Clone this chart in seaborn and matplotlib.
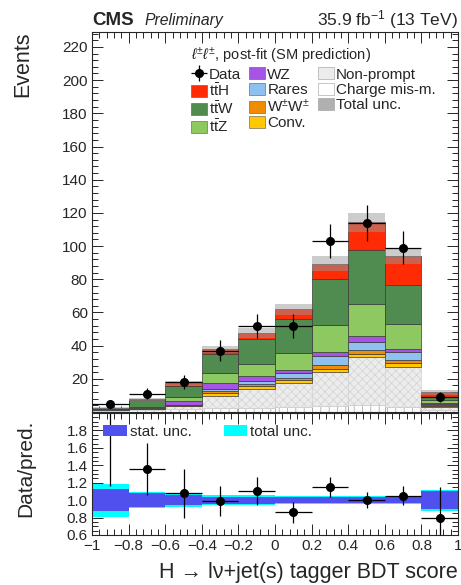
import numpy as np
import pandas as pd
import matplotlib
matplotlib.use("Agg")
import matplotlib.pyplot as plt
import seaborn as sns
from matplotlib.patches import Patch
from matplotlib.ticker import MultipleLocator
from matplotlib.colors import to_rgba

# ---------------------------------------------------------------------------
# Data
# ---------------------------------------------------------------------------
bin_edges = [-1.0, -0.8, -0.6, -0.4, -0.2, 0.0, 0.2, 0.4, 0.6, 0.8, 1.0]
bin_centers = [-0.9, -0.7, -0.5, -0.3, -0.1, 0.1, 0.3, 0.5, 0.7, 0.9]

# post-fit yields per process (events per bin)
tth = [0.1, 0.3, 1.6, 2.8, 4.0, 5.5, 9.4, 17.1, 17.0, 3.0]
ttw = [0.4, 4.5, 6.4, 11.2, 14.8, 21.0, 27.7, 32.4, 23.9, 1.6]
ttz = [0.2, 0.4, 2.4, 6.5, 7.2, 10.0, 16.4, 19.3, 15.2, 2.0]
wz = [0.1, 0.1, 2.3, 3.4, 3.2, 2.0, 2.2, 3.4, 1.4, 0.4]
rares = [0.1, 0.1, 0.3, 1.0, 1.7, 2.8, 5.4, 5.0, 5.0, 0.8]
wpwp = [0.1, 0.2, 0.3, 1.3, 1.3, 1.5, 2.5, 2.3, 2.0, 0.5]
conv = [0.1, 0.2, 0.3, 1.9, 1.9, 1.6, 1.5, 1.7, 2.0, 0.5]
fakes = [0.8, 0.8, 1.6, 7.1, 11.1, 14.4, 20.8, 29.3, 24.3, 1.5]
chflip = [0.5, 1.0, 2.0, 2.5, 2.5, 3.0, 3.5, 4.0, 3.0, 1.5]

data_obs = [5, 11, 18, 37, 52, 52, 103, 114, 99, 9]
data_err = [2.3, 3.4, 4.3, 6.1, 7.2, 7.2, 10.2, 10.7, 10.0, 3.0]

# relative uncertainties of the prediction
tot_unc_rel = [0.19, 0.09, 0.08, 0.06, 0.06, 0.05, 0.05, 0.05, 0.05, 0.12]
stat_unc_rel = [0.13, 0.08, 0.06, 0.04, 0.04, 0.035, 0.035, 0.035, 0.035, 0.10]

# data / prediction
ratio_vals = [2.2, 1.36, 1.08, 0.99, 1.10, 0.86, 1.15, 1.00, 1.05, 0.80]
ratio_err = [1.04, 0.30, 0.28, 0.17, 0.16, 0.12, 0.11, 0.09, 0.11, 0.35]

# ---------------------------------------------------------------------------
# Style
# ---------------------------------------------------------------------------
sns.set_theme(style="ticks")
plt.rcParams["font.family"] = ["Liberation Sans", "DejaVu Sans"]
plt.rcParams["mathtext.fontset"] = "custom"
plt.rcParams["mathtext.rm"] = "Liberation Sans"
plt.rcParams["mathtext.it"] = "Liberation Sans:italic"
plt.rcParams["hatch.linewidth"] = 0.5

processes = {
    "ttH": (tth, "#fe2b05", r"t$\bar{\rm t}$H"),
    "ttW": (ttw, "#508c50", r"t$\bar{\rm t}$W"),
    "ttZ": (ttz, "#8ec860", r"t$\bar{\rm t}$Z"),
    "WZ": (wz, "#a654e6", "WZ"),
    "Rares": (rares, "#8ec0f0", "Rares"),
    "WW": (wpwp, "#f08c00", r"W$^{\pm}$W$^{\pm}$"),
    "Conv": (conv, "#ffc800", "Conv."),
    "Fakes": (fakes, "#ececec", "Non-prompt"),
    "ChFlip": (chflip, "#fdfdfd", "Charge mis-m."),
}
hue_order = list(processes.keys())  # seaborn stacks last level at the bottom
palette = {k: v[1] for k, v in processes.items()}

rows = []
for name, (vals, _, _) in processes.items():
    for xc, v in zip(bin_centers, vals):
        rows.append({"x": xc, "yield": v, "process": name})
df = pd.DataFrame(rows)

total = df.groupby("x")["yield"].sum().reindex(bin_centers).to_numpy()
tot_unc = total * np.array(tot_unc_rel)

# ---------------------------------------------------------------------------
# Figure
# ---------------------------------------------------------------------------
fig = plt.figure(figsize=(4.61, 5.85), dpi=100)
ax = fig.add_axes([0.1996, 0.2957, 0.794, 0.6496])
ax_r = fig.add_axes([0.1996, 0.0855, 0.794, 0.2085], sharex=ax)

sns.histplot(
    data=df, x="x", weights="yield", hue="process", hue_order=hue_order,
    multiple="stack", bins=bin_edges, palette=palette, element="bars",
    alpha=1.0, edgecolor="#3a3a3a", linewidth=0.5, legend=False, ax=ax,
)

# hatch the data-driven backgrounds
fake_rgba = to_rgba(palette["Fakes"])
flip_rgba = to_rgba(palette["ChFlip"])
for p in ax.patches:
    fc = p.get_facecolor()
    if np.allclose(fc, fake_rgba, atol=0.01):
        p.set_hatch("xxxx")
        p.set_edgecolor("#d2d2d2")
    elif np.allclose(fc, flip_rgba, atol=0.01):
        p.set_hatch("||")
        p.set_edgecolor("#a0a0a0")

ax.bar(bin_centers, 2 * tot_unc, bottom=total - tot_unc, width=0.2,
       color="#9a9a9a", alpha=0.5, linewidth=0)

data_h = ax.errorbar(bin_centers, data_obs, xerr=0.1, yerr=data_err, fmt="o",
                     color="black", ms=5.5, elinewidth=0.9, capsize=0)

ax.set_xlim(-1, 1)
ax.set_ylim(0, 229)
ax.set_yticks(range(0, 221, 20))
ax.set_yticklabels([""] + [str(v) for v in range(20, 221, 20)])
ax.yaxis.set_minor_locator(MultipleLocator(4))
ax.xaxis.set_major_locator(MultipleLocator(0.2))
ax.xaxis.set_minor_locator(MultipleLocator(0.04))
ax.tick_params(axis="x", labelbottom=False)
ax.set_xlabel("")
ax.set_ylabel("Events", fontsize=15.5, loc="top")
ax.yaxis.set_label_coords(-0.16, 1.0)

legend_handles = [
    data_h,
    Patch(facecolor=palette["ttH"], edgecolor="#555555", linewidth=0.4),
    Patch(facecolor=palette["ttW"], edgecolor="#555555", linewidth=0.4),
    Patch(facecolor=palette["ttZ"], edgecolor="#555555", linewidth=0.4),
    Patch(facecolor=palette["WZ"], edgecolor="#555555", linewidth=0.4),
    Patch(facecolor=palette["Rares"], edgecolor="#555555", linewidth=0.4),
    Patch(facecolor=palette["WW"], edgecolor="#555555", linewidth=0.4),
    Patch(facecolor=palette["Conv"], edgecolor="#555555", linewidth=0.4),
    Patch(facecolor=palette["Fakes"], edgecolor="#999999", linewidth=0.4),
    Patch(facecolor="white", edgecolor="#999999", linewidth=0.4),
    Patch(facecolor="#b0b0b0", edgecolor="#999999", linewidth=0.4),
]
legend_labels = [
    "Data", processes["ttH"][2], processes["ttW"][2], processes["ttZ"][2],
    "WZ", "Rares", processes["WW"][2], "Conv.",
    "Non-prompt", "Charge mis-m.", "Total unc.",
]
leg = ax.legend(
    legend_handles, legend_labels, ncol=3, loc="upper left",
    bbox_to_anchor=(0.27, 0.963), frameon=False, fontsize=11,
    title=r"$\ell^{\pm}\ell^{\pm}$, post-fit (SM prediction)", title_fontsize=10.5,
    alignment="left", handlelength=1.05, handleheight=0.85, handletextpad=0.15,
    columnspacing=0.5, labelspacing=0.06, borderpad=0, borderaxespad=0,
)

# ---------------------------------------------------------------------------
# Ratio panel
# ---------------------------------------------------------------------------
tot_r = np.array(tot_unc_rel)
stat_r = np.array(stat_unc_rel)
ax_r.bar(bin_centers, 2 * tot_r, bottom=1 - tot_r, width=0.2, color="#00ffff",
         linewidth=0, label="total unc.")
ax_r.bar(bin_centers, 2 * stat_r, bottom=1 - stat_r, width=0.2, color="#5050ee",
         linewidth=0, label="stat. unc.")
ax_r.errorbar(bin_centers, ratio_vals, xerr=0.1, yerr=ratio_err, fmt="o",
              color="black", ms=5.5, elinewidth=0.9, capsize=0)
h, l = ax_r.get_legend_handles_labels()
ax_r.legend(h[::-1], l[::-1], ncol=2, loc="center left", bbox_to_anchor=(0.03, 0.844),
            frameon=False, fontsize=11, handlelength=1.55, handleheight=0.72,
            handletextpad=0.2, columnspacing=2.1, borderpad=0, borderaxespad=0)

ax_r.set_ylim(0.6, 2.0)
ax_r.set_yticks([0.6, 0.8, 1.0, 1.2, 1.4, 1.6, 1.8])
ax_r.set_yticklabels(["0.6", "0.8", "1.0", "1.2", "1.4", "1.6", "1.8"])
ax_r.yaxis.set_minor_locator(MultipleLocator(0.05))
ax_r.set_xticks([-1, -0.8, -0.6, -0.4, -0.2, 0, 0.2, 0.4, 0.6, 0.8, 1])
ax_r.set_xticklabels(["\u22121", "\u22120.8", "\u22120.6", "\u22120.4", "\u22120.2",
                      "0", "0.2", "0.4", "0.6", "0.8", "1"])
ax_r.set_xlim(-1, 1)
ax_r.set_ylabel("Data/pred.", fontsize=15, loc="center")
ax_r.yaxis.set_label_coords(-0.156, 0.55)
ax_r.set_xlabel("H \u2192 l\u03bd+jet(s) tagger BDT score", fontsize=15.5, loc="right")
ax_r.xaxis.set_label_coords(1.0, -0.22)

for a in (ax, ax_r):
    a.tick_params(which="both", direction="in", top=True, right=True,
                  labelsize=11, pad=3, width=0.7)
    a.tick_params(which="major", length=8)
    a.tick_params(which="minor", length=4)
    for s in a.spines.values():
        s.set_linewidth(0.8)

# header
fig.text(92 / 461, 1 - 25 / 585, "CMS", fontsize=13.5, fontweight="bold", va="baseline")
fig.text(145 / 461, 1 - 25 / 585, "Preliminary", fontsize=11.3, style="italic", va="baseline")
fig.text(458 / 461, 1 - 25 / 585, r"35.9 fb$^{-1}$ (13 TeV)", fontsize=12.5,
         ha="right", va="baseline")

fig.savefig("out.png", dpi=100)
plt.close(fig)
